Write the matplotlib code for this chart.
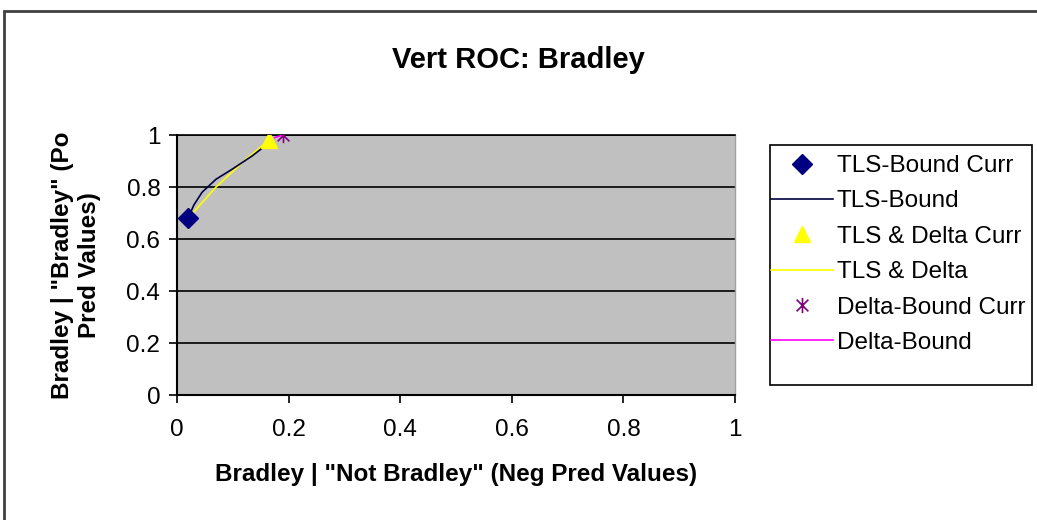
import matplotlib
matplotlib.use("Agg")
import matplotlib.pyplot as plt
from matplotlib.path import Path
from matplotlib.patches import Rectangle

plt.rcParams['font.family'] = ['Liberation Sans', 'DejaVu Sans']

# Data
tls_bound_curr_x = [0.02]
tls_bound_curr_y = [0.68]
tls_bound_x = [0.02, 0.03, 0.045, 0.07, 0.10, 0.135, 0.165]
tls_bound_y = [0.68, 0.73, 0.78, 0.83, 0.87, 0.92, 0.97]
tls_delta_curr_x = [0.165]
tls_delta_curr_y = [0.98]
tls_delta_x = [0.02, 0.07, 0.12, 0.165]
tls_delta_y = [0.68, 0.80, 0.90, 0.98]
delta_bound_curr_x = [0.19]
delta_bound_curr_y = [1.0]
delta_bound_x = [0.175, 0.19]
delta_bound_y = [0.99, 1.0]

title = "Vert ROC: Bradley"
xlabel = 'Bradley | "Not Bradley" (Neg Pred Values)'
ylabel = 'Bradley | "Bradley" (Po\nPred Values)'
ticks = [0, 0.2, 0.4, 0.6, 0.8, 1]
tick_labels = ["0", "0.2", "0.4", "0.6", "0.8", "1"]

FS = 17.5

# Excel-style asterisk marker (X with vertical bar)
star = Path([(-1, -1), (1, 1), (-1, 1), (1, -1), (0, -1.3), (0, 1.3)],
            [Path.MOVETO, Path.LINETO, Path.MOVETO, Path.LINETO, Path.MOVETO, Path.LINETO])

fig = plt.figure(figsize=(10.37, 5.2), dpi=100)
ax = fig.add_axes([177/1037, 1-395/520, (735-177)/1037, (395-135)/520])
ax.set_facecolor('#C0C0C0')

ax.plot(tls_bound_curr_x, tls_bound_curr_y, linestyle='none', marker='D', markersize=10,
        color='#000080', label='TLS-Bound Curr', zorder=5)
ax.plot(tls_bound_x, tls_bound_y, color='#000040', lw=1.2, label='TLS-Bound', zorder=4)
ax.plot(tls_delta_curr_x, tls_delta_curr_y, linestyle='none', marker='^', markersize=12,
        color='#FFFF00', label='TLS & Delta Curr', zorder=5)
ax.plot(tls_delta_x, tls_delta_y, color='#FFFF00', lw=1.2, label='TLS & Delta', zorder=3)
ax.plot(delta_bound_curr_x, delta_bound_curr_y, linestyle='none', marker=star, markersize=11,
        markeredgewidth=1.2, color='#800080', label='Delta-Bound Curr', zorder=6)
ax.plot(delta_bound_x, delta_bound_y, color='#FF00FF', lw=1.2, label='Delta-Bound', zorder=4)

ax.set_xlim(0, 1)
ax.set_ylim(0, 1)
ax.set_xticks(ticks)
ax.set_xticklabels(tick_labels)
ax.set_yticks(ticks)
ax.set_yticklabels(tick_labels)
ax.yaxis.grid(True, color='black', lw=1.2)
ax.set_axisbelow(True)
ax.tick_params(direction='out', length=6, width=1.2, labelsize=FS, colors='black')
ax.tick_params(axis='x', pad=11)
ax.tick_params(axis='y', pad=6)
for s in ['left', 'bottom']:
    ax.spines[s].set_color('black')
    ax.spines[s].set_linewidth(1.5)
ax.spines['top'].set_color('black')
ax.spines['top'].set_linewidth(1.2)
ax.spines['right'].set_color('#A0A0A0')
ax.spines['right'].set_linewidth(1)

ax.set_xlabel(xlabel, fontsize=FS, fontweight='bold', labelpad=16)
ax.set_ylabel(ylabel, fontsize=FS, fontweight='bold', labelpad=18, linespacing=1.25)

fig.text(0.5, 1-60/520, title, ha='center', va='center', fontsize=21, fontweight='bold')

# legend frame drawn as its own box, behind the axes artists
fig.patches.append(Rectangle((770/1037, 1-385/520), (1032-770)/1037, (385-145)/520,
                             transform=fig.transFigure, facecolor='white', edgecolor='black',
                             lw=1.2, zorder=-1))
leg = ax.legend(loc='upper left', bbox_to_anchor=(771/1037, 1-155/520),
                bbox_transform=fig.transFigure, frameon=False,
                fontsize=FS, handlelength=2.55, labelspacing=0.55,
                handletextpad=0.15, borderpad=0.0, borderaxespad=0)

fig.patches.append(Rectangle((4/1037, -0.1), 1.2, 1-11/520+0.1, transform=fig.transFigure,
                             fill=False, edgecolor='#404040', lw=2, zorder=-1))

fig.savefig('out.png', dpi=100)
